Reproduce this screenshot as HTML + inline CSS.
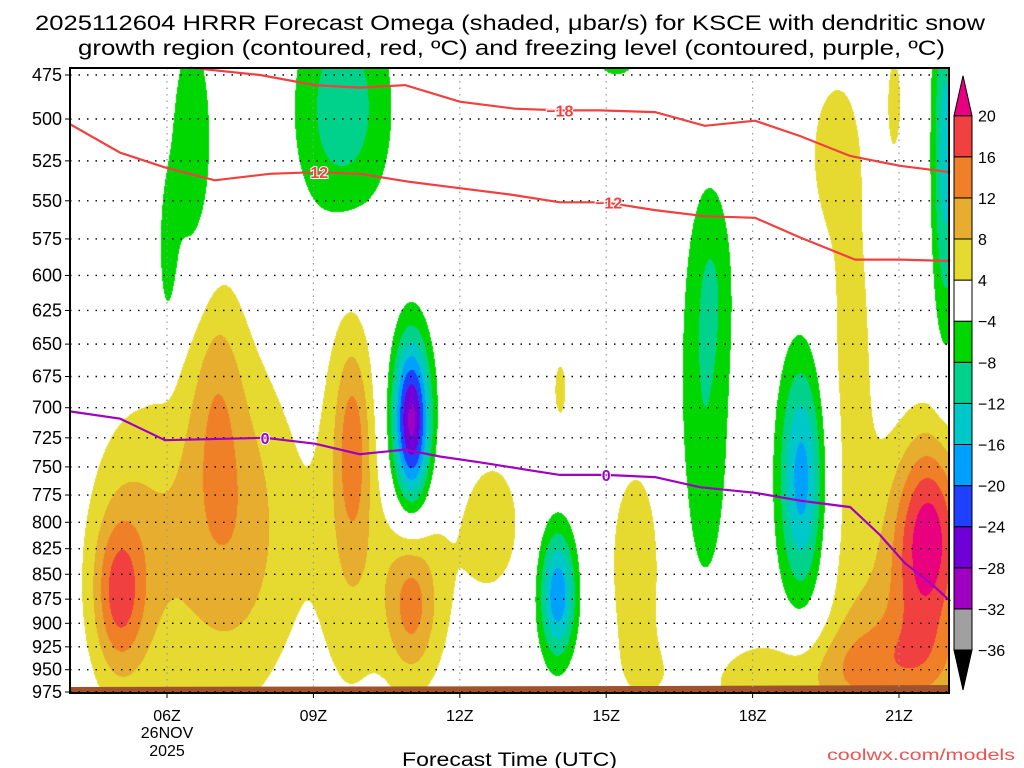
<!DOCTYPE html>
<html><head><meta charset="utf-8">
<style>
html,body{margin:0;padding:0;background:#fff;width:1024px;height:768px;overflow:hidden}
#wrap{position:relative;width:1024px;height:768px}
canvas,svg{position:absolute;left:0;top:0}
text{font-family:"Liberation Sans",sans-serif}
</style></head><body>
<div id="wrap">
<canvas id="field" width="1024" height="768"></canvas>
<svg id="svg" width="1024" height="768"></svg>
</div>
<script>
// ---- data ----
const pressureTicks = [475,500,525,550,575,600,625,650,675,700,725,750,775,800,825,850,875,900,925,950,975];
const hourTicks = [6,9,12,15,18,21];
const hourTickLabels = ["06Z","09Z","12Z","15Z","18Z","21Z"];
const levels = [-36,-32,-28,-24,-20,-16,-12,-8,-4,4,8,12,16,20];
const levelColors = ["#000000","#a0a0a0","#a000c0","#7000d8","#2040ff","#00a0ff","#00c8c8","#00d28c","#00d600","#ffffff","#e6da30","#e6ad2e","#f08028","#f04040","#e8007f"];
// omega features: hour, pressure, amplitude (ubar/s), width (h), width (ln p)
const blobHour = [5.0,5.2,7.3,7.0,6.8,9.8,9.7,11.0,11.0,12.7,14.05,15.6,18.5,21.6,21.0,20.0,19.6,20.9,21.1, 11.0,14.0,17.0,19.0,6.5,6.0,9.6,21.95,15.2,17.2];
const blobPres = [870,840,790,680,830,730,760,880,860,800,685,840,960,810,915,680,520,490,945, 712,870,700,760,520,590,495,520,470,600];
const blobAmp  = [11,6,7,6,4.5,9,5,9,5,6,5,6,6,21,7,5.5,5,5,5, -30,-19,-7.5,-18,-7,-5.5,-11,-14,-6,-4];
const blobSh   = [0.35,0.6,0.9,0.4,1.6,0.25,0.45,0.35,0.9,0.45,0.15,0.5,1.8,0.55,0.9,0.45,0.35,0.15,1.2, 0.28,0.27,0.4,0.34,0.35,0.15,0.7,0.2,0.3,0.3];
const blobSp   = [0.06,0.12,0.14,0.1,0.15,0.08,0.2,0.06,0.1,0.06,0.04,0.11,0.04,0.085,0.08,0.25,0.06,0.06,0.04, 0.07,0.055,0.17,0.1,0.12,0.07,0.1,0.15,0.01,0.08];
// isotherms
const iso18Hour = [6.47,7.91,9.03,9.95,10.88,12.0,13.13,14.05,14.87,16.0,17.02,18.05,18.97,20.0,21.02,22.05];
const iso18Pres = [471,475,480.6,482,480.6,490,494,495,495,496,504,501,510,522,528,532];
const iso12Hour = [4.01,5.04,5.96,6.98,8.11,9.03,9.95,10.98,12.0,13.03,14.05,14.98,16.0,17.02,18.05,18.97,20.1,21.02,22.05];
const iso12Pres = [503,520,529,537,533,532,533,538,542,546,551,551,556,560,561,574,589,589,590];
const frzHour = [4.01,5.04,5.96,8.01,9.03,9.95,10.88,11.59,12.41,13.44,14.05,14.98,16.0,16.92,18.05,18.97,20.0,20.61,21.12,21.63,22.05];
const frzPres = [703,709,727,725,730,739,735,741,746,753,757,757,759,768,773,780,786,812,839,858,877];
const isoLabels = [["\u221218",14.05,495,"#f04040"],["12",9.12,532,"#f04040"],["\u221212",15.05,551,"#f04040"],["0",8.01,725,"#a000c0"],["0",15.0,757,"#a000c0"]];

// ---- axes ----
const X0=70,X1=949,Y0=68,Y1=693;
const xOf=h=>167+(h-6)*48.8;
const yOf=p=>75+858*Math.log(p/475);
const hOf=x=>6+(x-167)/48.8;
const lpOf=y=>Math.log(475)+(y-75)/858;

// ---- shading ----
const cv=document.getElementById('field'),ctx=cv.getContext('2d');
const W=X1-X0,H=Y1-Y0,img=ctx.createImageData(W,H);
function hex(c){return [parseInt(c.substr(1,2),16),parseInt(c.substr(3,2),16),parseInt(c.substr(5,2),16)];}
const rgb=levelColors.map(hex);
const blp=blobPres.map(p=>Math.log(p));
for(let j=0;j<H;j++){const lp=lpOf(Y0+j);
 for(let i=0;i<W;i++){const h=hOf(X0+i);let v=0;
  for(let k=0;k<blobHour.length;k++){const dx=(h-blobHour[k])/blobSh[k],dy=(lp-blp[k])/blobSp[k];const r=dx*dx+dy*dy;if(r<30)v+=blobAmp[k]*Math.exp(-r/2);}
  let b=0;while(b<levels.length&&v>=levels[b])b++;
  const c=rgb[b],o=(j*W+i)*4;img.data[o]=c[0];img.data[o+1]=c[1];img.data[o+2]=c[2];img.data[o+3]=255;}}
ctx.putImageData(img,X0,Y0);

// ---- svg ----
const NS="http://www.w3.org/2000/svg",svg=document.getElementById('svg');
function mk(t,a,txt){const e=document.createElementNS(NS,t);for(const k in a)e.setAttribute(k,a[k]);if(txt!==undefined)e.textContent=txt;svg.appendChild(e);return e;}

// ground
const g=mk('path',{d:`M${X0} 687 L${xOf(16)} 686 L${X1} 685 L${X1} ${Y1} L${X0} ${Y1} Z`,fill:'#a0522d'});



// grid
pressureTicks.forEach(p=>{const y=yOf(p);
 const l=mk('line',{x1:X0,x2:X1,y1:y,y2:y,stroke:'#000','stroke-width':1.4,'stroke-dasharray':'1.5 7'});
 
 
 const t=mk('line',{x1:X0-5,x2:X0,y1:y,y2:y,stroke:'#000'});
 
 
 const tx=mk('text',{x:62,y:y+6,'text-anchor':'end','font-size':18,fill:'#000'},String(p));
 
 });
hourTicks.forEach((h,i)=>{const x=xOf(h);
 const l=mk('line',{x1:x,x2:x,y1:Y0,y2:Y1,stroke:'#999','stroke-width':1.2,'stroke-dasharray':'1.5 5'});
 
 
 const t=mk('line',{x1:x,x2:x,y1:Y1,y2:Y1+5,stroke:'#000'});
 
 
 const tx=mk('text',{x:x,y:721,'text-anchor':'middle','font-size':16,fill:'#000'},hourTickLabels[i]);
 
 });
[["26NOV",738],["2025",756]].forEach(d=>{const t=mk('text',{x:xOf(6),y:d[1],'text-anchor':'middle','font-size':16,fill:'#000'},d[0]);
 
 });

// contour lines
function line(hs,ps,col,name){const d=hs.map((h,i)=>(i?'L':'M')+xOf(h).toFixed(1)+' '+yOf(ps[i]).toFixed(1)).join(' ');
 const e=mk('path',{d:d,fill:'none',stroke:col,'stroke-width':2.2});
 
 }
line(iso18Hour,iso18Pres,'#f04040','isotherm-minus18');
line(iso12Hour,iso12Pres,'#f04040','isotherm-minus12');
line(frzHour,frzPres,'#a000c0','freezing-level');
isoLabels.forEach(L=>{const x=xOf(L[1]),y=yOf(L[2]);
 const t=mk('text',{x:x,y:y+6,'text-anchor':'middle','font-size':16,'font-weight':'bold',fill:L[3],stroke:'#fff','stroke-width':2,'paint-order':'stroke'},L[0]);
 
 });

// frame
const fr=mk('rect',{x:X0,y:Y0,width:X1-X0,height:Y1-Y0,fill:'none',stroke:'#000','stroke-width':2});



// colorbar
const CB0=954,CBW=18,lvY=i=>650-i*41.1;
for(let b=1;b<levels.length;b++){const r=mk('rect',{x:CB0,y:lvY(b),width:CBW,height:41.1,fill:levelColors[b],stroke:'#000','stroke-width':1});
 
 }
const tt=mk('path',{d:`M${CB0} ${lvY(13)} L${CB0+CBW/2} ${lvY(13)-40} L${CB0+CBW} ${lvY(13)} Z`,fill:levelColors[14],stroke:'#000'});


const bt=mk('path',{d:`M${CB0} ${lvY(0)} L${CB0+CBW/2} ${lvY(0)+40} L${CB0+CBW} ${lvY(0)} Z`,fill:levelColors[0],stroke:'#000'});


levels.forEach((v,i)=>{const t=mk('text',{x:978,y:lvY(i)+6,'font-size':16,fill:'#000'},(v<0?'\u2212':'')+Math.abs(v));
 
 });

// titles
const t1=mk('text',{x:35,y:30,'font-size':21,fill:'#000',textLength:950,lengthAdjust:'spacingAndGlyphs'},'2025112604 HRRR Forecast Omega (shaded, \u03bcbar/s) for KSCE with dendritic snow');


const t2=mk('text',{x:78,y:55,'font-size':21,fill:'#000',textLength:867,lengthAdjust:'spacingAndGlyphs'},'growth region (contoured, red, \u00baC) and freezing level (contoured, purple, \u00baC)');


const xt=mk('text',{x:402,y:766,'font-size':19,fill:'#000',textLength:215,lengthAdjust:'spacingAndGlyphs'},'Forecast Time (UTC)');


const cw=mk('text',{x:827,y:760,'font-size':16,fill:'#f05050',textLength:188,lengthAdjust:'spacingAndGlyphs'},'coolwx.com/models');


</script>
</body></html>
